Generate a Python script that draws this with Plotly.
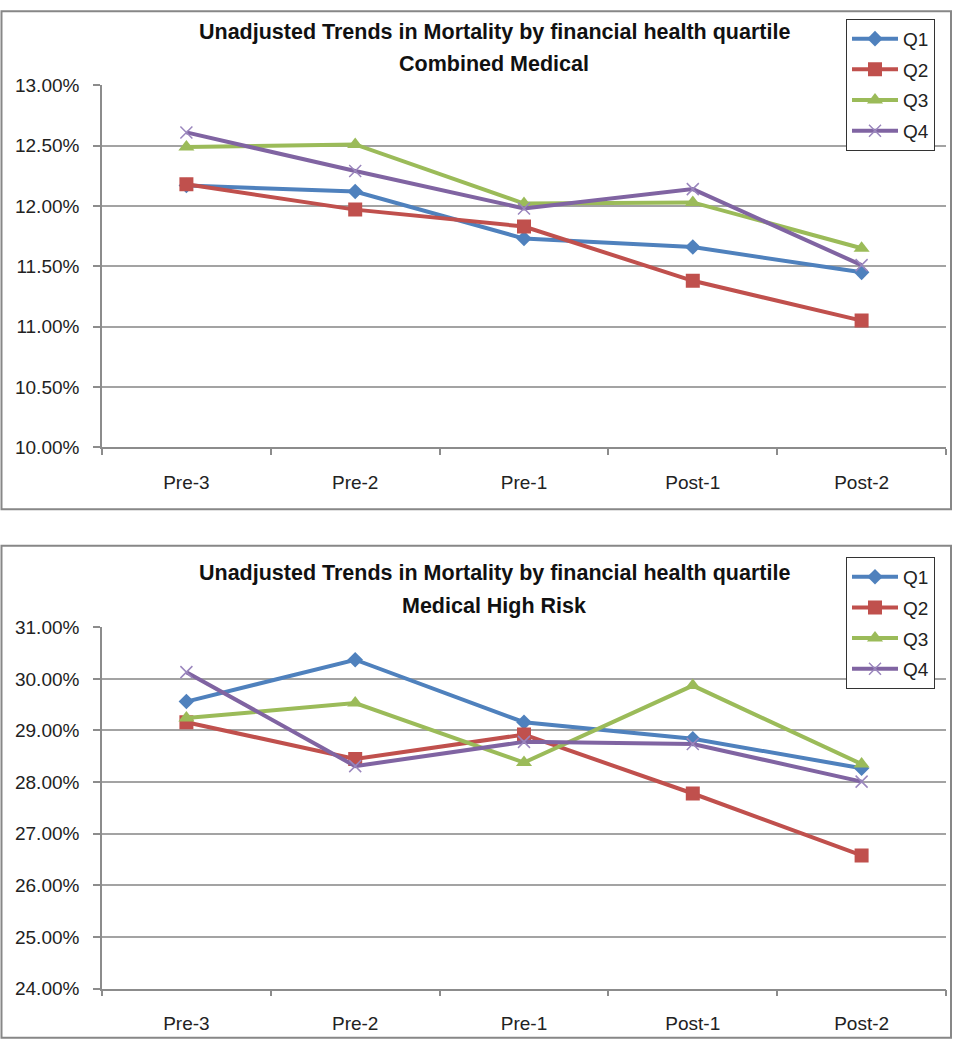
import plotly.graph_objects as go

W, H = 956, 1050

categories = ["Pre-3", "Pre-2", "Pre-1", "Post-1", "Post-2"]
series_names = ["Q1", "Q2", "Q3", "Q4"]

# Combined Medical (percent)
top_q1 = [12.17, 12.12, 11.73, 11.66, 11.45]
top_q2 = [12.18, 11.97, 11.83, 11.38, 11.05]
top_q3 = [12.49, 12.51, 12.02, 12.03, 11.65]
top_q4 = [12.61, 12.29, 11.98, 12.14, 11.51]

# Medical High Risk (percent)
bot_q1 = [29.56, 30.37, 29.16, 28.84, 28.27]
bot_q2 = [29.16, 28.45, 28.92, 27.78, 26.58]
bot_q3 = [29.24, 29.53, 28.38, 29.87, 28.35]
bot_q4 = [30.13, 28.31, 28.78, 28.74, 28.01]

title_line1 = "Unadjusted Trends in Mortality by financial health quartile"
top_subtitle = "Combined Medical"
bot_subtitle = "Medical High Risk"

FONT = "Liberation Sans, Arial, sans-serif"
colors = ["#4F81BD", "#C0504D", "#9BBB59", "#8064A2"]
symbols = ["diamond", "square", "triangle-up", "x-thin"]
sizes = [12, 14, 14, 12]

def px_x(p):
    return p / W

def px_y(p):
    return 1 - p / H

fig = go.Figure()

def add_series(data, xa, ya, legend):
    for i, (name, vals) in enumerate(zip(series_names, data)):
        if symbols[i] == "x-thin":
            marker = dict(symbol="x-thin", size=sizes[i], color="#9a86bd",
                          line=dict(color="#9a86bd", width=1.5))
        else:
            marker = dict(symbol=symbols[i], size=sizes[i], color=colors[i],
                          line=dict(width=0))
        fig.add_trace(go.Scatter(
            x=categories, y=vals, name=name, mode="lines+markers",
            line=dict(color=colors[i], width=4),
            marker=marker, xaxis=xa, yaxis=ya, legend=legend,
            legendgroup=legend + name,
        ))

add_series([top_q1, top_q2, top_q3, top_q4], "x", "y", "legend")
add_series([bot_q1, bot_q2, bot_q3, bot_q4], "x2", "y2", "legend2")

grid_col = "#a3a3a3"
axis_col = "#8c8c8c"
tick_font = dict(family=FONT, size=19, color="#222222")

xcommon = dict(type="category", domain=[px_x(102), px_x(946)],
               showline=True, linecolor=axis_col, linewidth=1.5,
               ticks="outside", tickson="boundaries", ticklen=6,
               tickcolor=axis_col, tickwidth=1.5, showgrid=False,
               tickfont=tick_font, ticklabelstandoff=17,
               range=[-0.5, 4.5], fixedrange=True)
ycommon = dict(showline=True, linecolor=axis_col, linewidth=1.5,
               ticks="outside", ticklen=7, tickcolor=axis_col, tickwidth=1.5,
               showgrid=True, gridcolor=grid_col, gridwidth=1.5,
               zeroline=False, tickfont=tick_font, tickformat=".2f",
               ticksuffix="%", ticklabelstandoff=10)

legend_common = dict(xanchor="left", yanchor="top",
                     bgcolor="white", bordercolor="#333333", borderwidth=1,
                     font=dict(family=FONT, size=19, color="#222222"),
                     tracegroupgap=3, itemwidth=46)

fig.update_layout(
    width=W, height=H,
    margin=dict(l=0, r=0, t=0, b=0),
    paper_bgcolor="white", plot_bgcolor="white",
    font=dict(family=FONT, color="#222222"),
    xaxis=dict(xcommon, anchor="y"),
    xaxis2=dict(xcommon, anchor="y2"),
    yaxis=dict(ycommon, domain=[px_y(446.2), px_y(76.9)], range=[10, 13],
               dtick=0.5, anchor="x"),
    yaxis2=dict(ycommon, domain=[px_y(998.7), px_y(629.8)], range=[24, 31],
                dtick=1, anchor="x2"),
    legend=dict(legend_common, x=px_x(846), y=px_y(9)),
    legend2=dict(legend_common, x=px_x(846), y=px_y(558)),
    showlegend=True,
)

# chart area borders
for (y0, y1) in [(1.2, 509.4), (546.8, 1048.8)]:
    fig.add_shape(type="rect", xref="paper", yref="paper",
                  x0=px_x(1.5), x1=px_x(951), y0=px_y(y1), y1=px_y(y0),
                  line=dict(color="#878787", width=2), layer="below")

# titles
for y1, y2, sub in [(22, 55.5, top_subtitle), (574, 608, bot_subtitle)]:
    fig.add_annotation(text="<b>" + title_line1 + "</b>", xref="paper", yref="paper",
                       x=px_x(494), y=px_y(y1), xanchor="center", yanchor="middle",
                       showarrow=False, font=dict(family=FONT, size=21.5, color="#111111"))
    fig.add_annotation(text="<b>" + sub + "</b>", xref="paper", yref="paper",
                       x=px_x(494), y=px_y(y2), xanchor="center", yanchor="middle",
                       showarrow=False, font=dict(family=FONT, size=21.5, color="#111111"))

fig.write_html(
    "out.html",
    config={"displayModeBar": False},
    post_script=(
        "document.documentElement.style.margin='0px';"
        "document.body.style.margin='0px';"
        "document.body.style.overflow='hidden';"
        "document.documentElement.style.overflow='hidden';"
        "var gd=document.getElementById('{plot_id}');"
        "gd.style.position='fixed';gd.style.top='0px';gd.style.left='0px';"
    ),
)
